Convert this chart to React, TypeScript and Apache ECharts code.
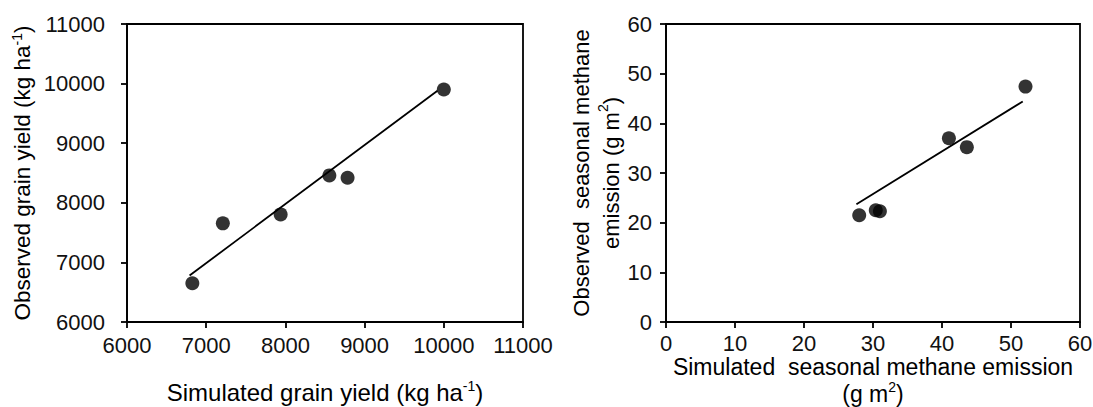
import React, { useEffect, useRef } from "react";
import * as echarts from "echarts";

// Left panel: grain yield (kg ha-1)
const grainSimulated = [6825, 7210, 7940, 8555, 8785, 10000];
const grainObserved = [6650, 7655, 7805, 8460, 8420, 9900];
const grainFitX = [6790, 9920];
const grainFitY = [6780, 9880];
const grainTicks = { min: 6000, max: 11000, interval: 1000 };

// Right panel: seasonal methane emission (g m2)
const methaneSimulated = [28.0, 30.4, 31.0, 41.0, 43.6, 52.1];
const methaneObserved = [21.5, 22.5, 22.3, 37.0, 35.2, 47.4];
const methaneFitX = [27.6, 51.7];
const methaneFitY = [23.7, 44.4];
const methaneTicks = { min: 0, max: 60, interval: 10 };

const FONT = "'Liberation Sans', Arial, sans-serif";
const INK = "#000";

const sup = {
  fontSize: 14,
  verticalAlign: "top" as const,
  fontFamily: FONT,
  color: INK,
};

function axisBase(ticks: { min: number; max: number; interval: number }, labelMargin: number) {
  return {
    type: "value" as const,
    min: ticks.min,
    max: ticks.max,
    interval: ticks.interval,
    splitLine: { show: false },
    axisLine: { show: true, onZero: false, lineStyle: { color: INK, width: 1.8 } },
    axisTick: { show: true, inside: false, length: 6, lineStyle: { color: INK, width: 1.8 } },
    axisLabel: {
      color: "#111",
      fontSize: 22,
      fontFamily: FONT,
      margin: labelMargin,
      formatter: (v: number) => String(v),
    },
    nameLocation: "middle" as const,
    nameMoveOverlap: false,
  };
}

export default function App() {
  const ref = useRef<HTMLDivElement>(null);

  useEffect(() => {
    if (!ref.current) return;
    const chart = echarts.init(ref.current, undefined, { renderer: "svg" });
    const zip = (a: number[], b: number[]) => a.map((v, i) => [v, b[i]]);

    const gridBase = {
      show: true,
      borderColor: INK,
      borderWidth: 1.8,
      backgroundColor: "transparent",
      containLabel: false,
      outerBoundsMode: "none",
    };

    chart.setOption({
      animation: false,
      backgroundColor: "#fff",
      grid: [
        { ...gridBase, left: 127, top: 24, width: 396, height: 298 },
        { ...gridBase, left: 666, top: 24, width: 414, height: 298 },
      ],
      xAxis: [
        {
          ...axisBase(grainTicks, 12),
          gridIndex: 0,
          name: "Simulated grain yield (kg ha{sup|-1})",
          nameGap: 57,
          nameTextStyle: { fontSize: 24, fontFamily: FONT, color: INK, lineHeight: 26, rich: { sup } },
        },
        {
          ...axisBase(methaneTicks, 10),
          gridIndex: 1,
          name: "Simulated  seasonal methane emission\n(g m{sup|2})",
          nameGap: 31,
          nameTextStyle: { fontSize: 23, fontFamily: FONT, color: INK, lineHeight: 27, rich: { sup } },
        },
      ],
      yAxis: [
        {
          ...axisBase(grainTicks, 22),
          gridIndex: 0,
          name: "Observed grain yield (kg ha{sup|-1})",
          nameGap: 92,
          nameTextStyle: { fontSize: 22.5, fontFamily: FONT, color: INK, lineHeight: 25, rich: { sup } },
        },
        {
          ...axisBase(methaneTicks, 14),
          gridIndex: 1,
          name: "Observed  seasonal methane\nemission (g m{sup|2})",
          nameGap: 40,
          nameTextStyle: { fontSize: 22, fontFamily: FONT, color: INK, lineHeight: 30, rich: { sup } },
        },
      ],
      series: [
        {
          type: "scatter",
          xAxisIndex: 0,
          yAxisIndex: 0,
          symbol: "circle",
          symbolSize: 14,
          itemStyle: { color: INK },
          data: zip(grainSimulated, grainObserved),
          z: 3,
        },
        {
          type: "line",
          xAxisIndex: 0,
          yAxisIndex: 0,
          showSymbol: false,
          lineStyle: { color: INK, width: 1.8 },
          data: zip(grainFitX, grainFitY),
          z: 2,
        },
        {
          type: "scatter",
          xAxisIndex: 1,
          yAxisIndex: 1,
          symbol: "circle",
          symbolSize: 14,
          itemStyle: { color: INK },
          data: zip(methaneSimulated, methaneObserved),
          z: 3,
        },
        {
          type: "line",
          xAxisIndex: 1,
          yAxisIndex: 1,
          showSymbol: false,
          lineStyle: { color: INK, width: 1.8 },
          data: zip(methaneFitX, methaneFitY),
          z: 2,
        },
      ],
    });

    return () => chart.dispose();
  }, []);

  return (
    <div
      ref={ref}
      style={{ position: "fixed", left: 0, top: 0, width: 1093, height: 407, background: "#fff" }}
    />
  );
}
